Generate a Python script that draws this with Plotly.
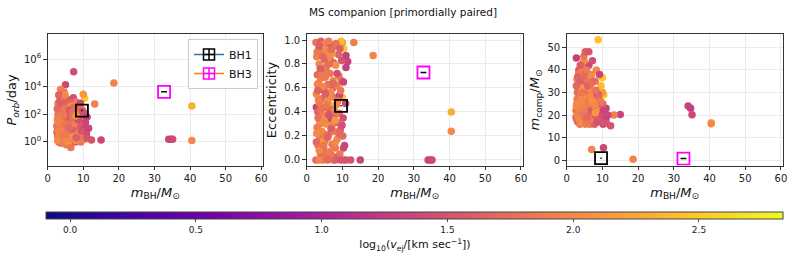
import plotly.graph_objects as go

# ---- data ----
m_bh = [18.6, 34.0, 34.7, 35.1, 40.5, 40.5, 15.0, 13.2, 12.3, 7.3,
        5.0, 3.6, 10.4, 10.0, 8.8, 2.7, 7.0, 10.3, 10.0, 6.8,
        6.0, 5.5, 9.6, 11.5, 11.0, 2.6, 2.8, 3.0, 2.7, 3.1,
        2.9, 3.2, 2.6, 3.4, 3.5, 3.3, 3.6, 3.8, 3.7, 3.9,
        4.0, 4.2, 4.1, 4.4, 4.3, 4.5, 4.6, 4.8, 4.7, 5.0,
        5.2, 4.9, 5.3, 5.4, 5.1, 5.6, 5.8, 5.5, 5.9, 6.0,
        6.2, 6.1, 6.4, 6.3, 6.6, 6.5, 6.8, 6.7, 7.0, 7.1,
        7.3, 7.2, 7.5, 7.4, 7.7, 7.8, 7.6, 8.0, 8.2, 8.1,
        8.4, 8.3, 8.6, 8.5, 8.8, 8.9, 9.0, 9.2, 9.1, 9.4,
        9.3, 9.8, 9.7, 10.2, 10.1, 10.4, 10.6, 10.9, 2.9, 3.0,
        3.2, 3.5, 3.6, 3.9, 4.0, 4.3, 4.5, 4.6, 4.9, 5.0,
        5.3, 5.5, 5.7, 5.9, 6.1, 6.3, 6.5, 6.8, 7.0, 7.2,
        7.4, 7.7, 7.9, 8.2, 8.5, 8.7, 9.0, 9.3, 9.5, 9.9,
        10.3, 2.7, 3.3, 3.8, 4.2, 4.8, 5.2, 6.2, 11.0, 4.5,
        5.8, 8.0, 9.5, 3.5, 11.0, 2.8, 3.1, 4.4, 6.9, 8.0]

log_porb = [4.27, 0.20, 0.20, 0.20, 2.60, 0.10, 0.14, 2.74, 0.14, 5.08,
            4.14, 3.80, 3.16, 3.45, 1.70, 1.10, 1.40, 0.90, 1.47, 1.20,
            1.90, 0.80, 2.40, 1.00, 1.80, 1.2, 0.4, 2.1, 1.6, 0.0,
            2.8, 1.0, 0.7, 3.0, 1.8, 0.2, 2.4, 1.4, -0.1, 3.3,
            0.9, 2.0, 0.5, 2.9, 1.2, 0.1, 3.6, 1.7, 0.6, 2.5,
            -0.2, 1.1, 3.1, 0.8, 2.2, 1.5, 0.3, 2.7, 1.9, 0.0,
            3.0, 1.3, 0.6, 2.4, 1.0, -0.4, 2.0, 0.4, 2.8, 1.6,
            0.2, 3.2, 1.2, 0.7, 2.3, 0.0, 1.8, 2.9, 0.9, 1.5,
            0.3, 2.6, 1.1, 0.5, 2.0, 0.1, 1.4, 2.8, 0.7, 1.9,
            0.0, 1.2, 0.4, 0.8, 2.1, 0.2, 1.4, 0.6, 1.9, 0.8,
            2.6, 0.5, 1.6, 2.2, 0.3, 1.5, 2.7, 0.9, 3.4, 1.3,
            0.2, 2.1, 1.0, 2.9, 0.5, 1.7, 2.6, 0.9, 1.9, 0.4,
            2.5, 1.3, 0.1, 2.1, 1.6, 0.6, 2.5, 1.1, 0.3, 2.2,
            1.0, 2.4, 1.3, 2.8, 0.7, 2.4, 1.8, 2.3, 1.8, 0.5,
            1.0, 0.3, 0.8, 1.7, 0.3, 0.1, 3.4, 1.9, 2.2, 1.9]

ecc = [0.87, 0.00, 0.00, 0.00, 0.40, 0.24, 0.00, 0.98, 0.00, 0.60,
       0.85, 0.30, 0.93, 0.98, 0.62, 0.44, 0.30, 0.10, 0.52, 0.45,
       0.42, 0.42, 0.99, 0.82, 0.77, 0.98, 0.86, 0.71, 0.55, 0.40,
       0.27, 0.12, 0.00, 0.93, 0.80, 0.64, 0.47, 0.33, 0.18, 0.05,
       0.99, 0.89, 0.75, 0.60, 0.51, 0.37, 0.22, 0.08, 0.96, 0.84,
       0.69, 0.58, 0.44, 0.30, 0.16, 0.02, 0.91, 0.78, 0.63, 0.49,
       0.35, 0.21, 0.07, 0.97, 0.86, 0.72, 0.57, 0.42, 0.28, 0.13,
       0.00, 0.94, 0.81, 0.66, 0.52, 0.38, 0.24, 0.10, 0.95, 0.79,
       0.62, 0.46, 0.31, 0.17, 0.03, 0.88, 0.70, 0.54, 0.39, 0.25,
       0.05, 0.83, 0.66, 0.35, 0.20, 0.00, 0.12, 0.47, 0.90, 0.63,
       0.35, 0.08, 0.95, 0.68, 0.42, 0.15, 0.86, 0.61, 0.33, 0.03,
       0.92, 0.74, 0.46, 0.19, 0.99, 0.80, 0.53, 0.26, 0.04, 0.89,
       0.64, 0.41, 0.14, 0.97, 0.72, 0.49, 0.22, 0.93, 0.58, 0.29,
       0.65, 0.15, 0.50, 0.76, 0.24, 0.12, 0.55, 0.38, 0.87, 0.00,
       0.00, 0.00, 0.00, 0.00, 0.00, 0.22, 0.58, 0.70, 0.92, 0.33]

m_comp = [0.5, 24.0, 23.0, 20.2, 16.6, 16.2, 20.3, 20.0, 15.3, 30.0,
          26.0, 34.0, 29.0, 30.0, 53.3, 45.3, 4.8, 5.5, 36.5, 31.0,
          27.5, 24.0, 33.0, 20.0, 23.0, 22, 18, 30, 24, 17,
          36, 20, 19, 40, 26, 21, 33, 23, 16, 38,
          19, 28, 17, 41, 22, 18, 43, 25, 20, 34,
          16, 21, 39, 19, 31, 23, 17, 36, 26, 18,
          42, 22, 20, 29, 24, 16, 31, 19, 38, 25,
          17, 44, 21, 18, 27, 16, 23, 35, 20, 26,
          17, 40, 22, 19, 29, 18, 24, 38, 21, 17,
          20, 23, 19, 16, 25, 18, 21, 19, 27, 20,
          31, 18, 35, 29, 22, 32, 37, 24, 44, 19,
          21, 40, 17, 33, 25, 20, 28.5, 22, 18, 26,
          35, 19, 24, 31, 17, 22, 28, 18, 26, 20,
          22, 33, 38, 42, 27, 46, 48, 48, 18, 21,
          19, 20, 17, 23, 16.5, 25, 37, 30, 34, 21]

log_vej = [1.95, 1.35, 1.30, 1.40, 2.30, 2.00, 1.35, 1.90, 1.50, 1.45,
           1.40, 1.95, 2.50, 2.10, 2.45, 1.30, 1.95, 1.40, 2.50, 2.50,
           2.45, 2.45, 2.40, 1.35, 1.30, 1.8, 1.9, 1.7, 2.0, 1.6,
           1.9, 1.8, 1.7, 1.6, 2.0, 1.9, 1.85, 2.05, 1.85, 1.7,
           1.6, 1.9, 2.1, 2.0, 1.75, 1.95, 1.85, 1.8, 2.0, 1.65,
           1.9, 1.45, 1.7, 2.05, 1.85, 1.6, 1.95, 1.85, 1.8, 2.1,
           1.4, 1.75, 1.9, 1.6, 2.0, 1.85, 2.0, 1.7, 2.0, 1.8,
           1.95, 1.45, 1.65, 2.0, 1.8, 1.6, 1.9, 1.85, 1.75, 2.05,
           1.85, 2.0, 1.7, 1.95, 1.4, 1.65, 1.9, 1.35, 1.8, 1.6,
           1.85, 1.5, 1.75, 1.45, 1.7, 1.9, 1.35, 1.4, 1.85, 1.95,
           1.75, 2.0, 1.6, 1.9, 1.8, 2.1, 1.7, 1.95, 2.0, 1.8,
           2.0, 1.85, 1.85, 1.65, 1.9, 1.75, 2.0, 1.6, 1.85, 2.05,
           1.7, 1.9, 2.0, 1.8, 1.45, 1.95, 1.7, 1.6, 1.85, 1.45,
           1.35, 1.7, 1.9, 1.6, 2.0, 1.85, 1.6, 1.5, 1.3, 1.85,
           1.7, 1.6, 1.5, 1.95, 1.5, 2.0, 1.65, 1.85, 1.75, 2.1]

bh_names = ["BH1", "BH3"]
bh_mass = [9.62, 32.7]
bh_mass_err = [0.18, 0.82]
bh_porb = [185.6, 4253.0]
bh_ecc = [0.451, 0.729]
bh_mcomp = [0.93, 0.76]
bh_marker_colors = ["black", "magenta"]
bh_line_colors = ["#1f77b4", "#ff7f0e"]

cbar_ticks = [0.0, 0.5, 1.0, 1.5, 2.0, 2.5]
porb_ticks = [1, 1e2, 1e4, 1e6]
porb_ticktext = ["10<sup>0</sup>", "10<sup>2</sup>", "10<sup>4</sup>", "10<sup>6</sup>"]

porb = [10 ** v for v in log_porb]

# ---- layout helpers (pixel -> paper) ----
W, H = 793, 261
def px(x):
    return x / W
def py(y):
    return 1 - y / H

FONT = "DejaVu Sans"
fig = go.Figure()

panel_y = [porb, ecc, m_comp]
panel_bh = [bh_porb, bh_ecc, bh_mcomp]

for i in range(3):
    sfx = "" if i == 0 else str(i + 1)
    fig.add_trace(go.Scatter(
        x=m_bh, y=panel_y[i], mode="markers",
        marker=dict(size=7.5, color=log_vej, coloraxis="coloraxis", line=dict(width=0)),
        xaxis="x" + sfx, yaxis="y" + sfx, showlegend=False, hoverinfo="skip"))
    for j in range(2):
        fig.add_trace(go.Scatter(
            x=[bh_mass[j]], y=[panel_bh[i][j]], mode="markers",
            name=bh_names[j],
            marker=dict(symbol="square-open", size=12, color=bh_marker_colors[j],
                        line=dict(width=1.8, color=bh_marker_colors[j])),
            error_x=dict(type="data", array=[bh_mass_err[j]], color="black",
                         thickness=1.5, width=0),
            xaxis="x" + sfx, yaxis="y" + sfx, showlegend=False,
            hoverinfo="skip"))

# legend-only entries (errorbar-style symbol)
for j in range(2):
    fig.add_trace(go.Scatter(
        x=[None], y=[None], mode="lines+markers", name=bh_names[j],
        line=dict(color=bh_line_colors[j], width=1.5),
        marker=dict(symbol="square-cross-open", size=11, color=bh_marker_colors[j],
                    line=dict(width=1.5, color=bh_marker_colors[j])),
        xaxis="x", yaxis="y", showlegend=True, hoverinfo="skip"))

xdoms = [(47.7, 263.0), (306.7, 522.7), (566.7, 782.7)]
ydom = [py(165.6), py(34.3)]

axcommon = dict(showline=True, mirror=True, linecolor="#333333", linewidth=1,
                ticks="outside", ticklen=3.5, tickwidth=1, tickcolor="#333333",
                showgrid=True, gridcolor="#ebebeb", gridwidth=0.8, zeroline=False,
                automargin=False,
                tickfont=dict(family=FONT, size=10, color="#222"))

xtitle = "<i>m</i><sub>BH</sub>/<i>M</i><sub>⊙</sub>"
for i in range(3):
    sfx = "" if i == 0 else str(i + 1)
    fig.update_layout(**{
        "xaxis" + sfx: dict(axcommon, domain=[px(xdoms[i][0]), px(xdoms[i][1])],
                            range=[0, 60.5], tickvals=[0, 10, 20, 30, 40, 50, 60],
                            anchor="y" + sfx,
                            title=dict(text=xtitle, font=dict(family=FONT, size=13, color="#111"),
                                       standoff=4)),
    })

fig.update_layout(
    yaxis=dict(axcommon, domain=ydom, type="log", range=[-1.71, 7.79],
               tickvals=porb_ticks, ticktext=porb_ticktext, anchor="x",
               title=dict(text="<i>P</i><sub><i>orb</i></sub>/day",
                          font=dict(family=FONT, size=13, color="#111"), standoff=4)),
    yaxis2=dict(axcommon, domain=ydom, range=[-0.047, 1.0475],
                tickvals=[0, 0.2, 0.4, 0.6, 0.8, 1.0], tickformat=".1f", anchor="x2",
                title=dict(text="Eccentricity", font=dict(family=FONT, size=13, color="#111"),
                           standoff=4)),
    yaxis3=dict(axcommon, domain=ydom, range=[-2.35, 55.75],
                tickvals=[0, 10, 20, 30, 40, 50], anchor="x3",
                title=dict(text="<i>m</i><sub>comp</sub>/<i>M</i><sub>⊙</sub>",
                           font=dict(family=FONT, size=13, color="#111"), standoff=4)),
)

fig.update_layout(
    width=W, height=H, margin=dict(l=0, r=0, t=0, b=0, autoexpand=False),
    paper_bgcolor="white", plot_bgcolor="white",
    font=dict(family=FONT, color="#222"),
    coloraxis=dict(
        colorscale="Plasma", cmin=-0.094, cmax=2.836,
        colorbar=dict(
            orientation="h", x=px((46.7 + 783.3) / 2), xanchor="center",
            lenmode="pixels", len=736.6, thickness=7, thicknessmode="pixels",
            y=py(211.7), yanchor="top", ypad=0, xpad=0,
            outlinewidth=1, outlinecolor="#444",
            tickvals=cbar_ticks, tickformat=".1f", ticks="outside", ticklen=3,
            tickcolor="#444", tickfont=dict(family=FONT, size=9, color="#222"),
            title=dict(text="log<sub>10</sub>(<i>v</i><sub>ej</sub>/[km sec<sup>−1</sup>])",
                       side="bottom", font=dict(family=FONT, size=11, color="#111")),
        ),
    ),
    legend=dict(x=px(258), xanchor="right", y=py(39), yanchor="top",
                bgcolor="rgba(255,255,255,0.9)", bordercolor="#cccccc", borderwidth=1,
                font=dict(family=FONT, size=11, color="#111"), tracegroupgap=0,
                itemwidth=30),
    annotations=[dict(text="MS companion [primordially paired]", x=px(403), y=py(12),
                      xref="paper", yref="paper", showarrow=False, yanchor="middle",
                      font=dict(family=FONT, size=10.5, color="#111"))],
)

fig.write_html("out.html", config={"displayModeBar": False},
               post_script="document.body.style.margin='0';document.body.style.padding='0';")
